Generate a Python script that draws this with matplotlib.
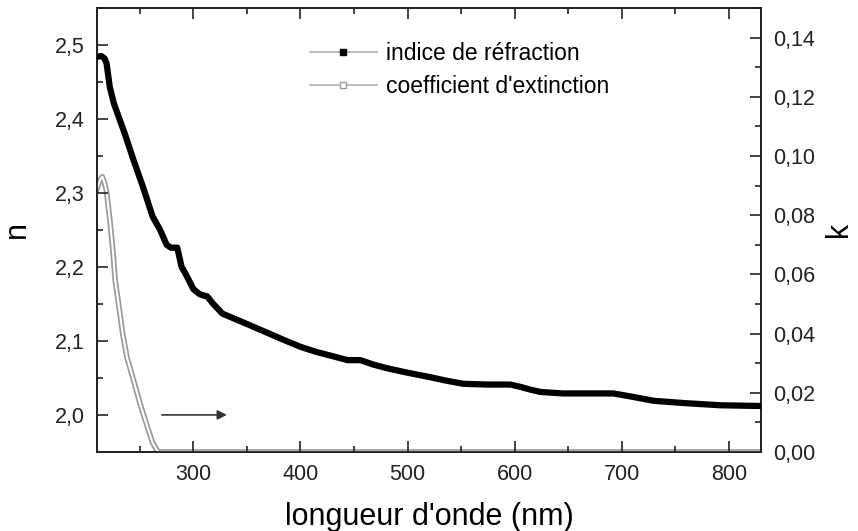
import matplotlib
matplotlib.use("Agg")
import matplotlib.pyplot as plt
from matplotlib.ticker import MultipleLocator, FuncFormatter
from matplotlib.lines import Line2D

plt.rcParams['font.family'] = ['Liberation Sans', 'DejaVu Sans']

# refractive index n vs wavelength (nm)
wl_n = [210, 214, 217, 219, 222, 226, 231, 236, 244, 253, 262, 269, 275, 279, 285,
        289, 293, 300, 306, 313, 318, 327, 340, 353, 369, 385, 400, 415, 431, 444,
        456, 468, 481, 500, 521, 537, 552, 575, 596, 605, 615, 624, 645, 670, 692,
        708, 730, 758, 792, 830]
n_vals = [2.484, 2.485, 2.482, 2.475, 2.443, 2.420, 2.400, 2.380, 2.345, 2.308, 2.268,
          2.250, 2.230, 2.226, 2.226, 2.200, 2.190, 2.170, 2.163, 2.160, 2.151, 2.137,
          2.129, 2.121, 2.111, 2.101, 2.092, 2.085, 2.079, 2.074, 2.074, 2.068, 2.063,
          2.057, 2.051, 2.046, 2.042, 2.041, 2.041, 2.038, 2.034, 2.031, 2.029, 2.029,
          2.029, 2.025, 2.019, 2.016, 2.013, 2.012]

# extinction coefficient k vs wavelength (nm)
wl_k = [210, 213, 215, 217, 219, 222, 225, 227, 230, 234, 238, 244, 250, 257, 262,
        267, 300, 400, 500, 600, 700, 830]
k_vals = [0.089, 0.092, 0.093, 0.091, 0.088, 0.0786, 0.0675, 0.058, 0.0505, 0.040,
          0.032, 0.0244, 0.0166, 0.0085, 0.003, 0.0, 0.0, 0.0, 0.0, 0.0, 0.0, 0.0]

fig = plt.figure(figsize=(8.58, 5.31), dpi=100)
ax = fig.add_axes([0.113, 0.149, 0.774, 0.836])
ax2 = ax.twinx()

# k curve: hollow grey squares look (grey stroke with white core)
ax2.plot(wl_k, k_vals, color='#9a9a9a', lw=4.0, solid_joinstyle='round', zorder=2)
ax2.plot(wl_k, k_vals, color='white', lw=1.5, zorder=3)

# n curve: dense black squares look
ax.plot(wl_n, n_vals, color='black', lw=4.5, solid_joinstyle='round', zorder=3)
ax.set_zorder(ax2.get_zorder() + 1)
ax.patch.set_visible(False)

ax.set_xlim(210, 830)
ax.set_ylim(1.95, 2.55)
ax2.set_ylim(0.0, 0.15)

ax.xaxis.set_major_locator(MultipleLocator(100))
ax.xaxis.set_minor_locator(MultipleLocator(50))
ax.yaxis.set_major_locator(MultipleLocator(0.1))
ax.yaxis.set_minor_locator(MultipleLocator(0.05))
ax2.yaxis.set_major_locator(MultipleLocator(0.02))
ax2.yaxis.set_minor_locator(MultipleLocator(0.01))

ax.yaxis.set_major_formatter(FuncFormatter(lambda v, p: f"{v:.1f}".replace('.', ',')))
ax2.yaxis.set_major_formatter(FuncFormatter(lambda v, p: f"{v:.2f}".replace('.', ',')))

ax.tick_params(which='both', direction='in', top=True, right=False,
               labelsize=15.5, colors='#222222', width=1.2)
ax.tick_params(which='major', length=8, pad=9)
ax.tick_params(which='minor', length=4)
ax2.tick_params(which='both', direction='in', labelsize=15.5, colors='#222222', width=1.2)
ax2.tick_params(which='major', length=8, pad=9)
ax2.tick_params(which='minor', length=4)

for a in (ax, ax2):
    for s in a.spines.values():
        s.set_linewidth(1.3)
        s.set_color('#222222')

ax.set_xlabel("longueur d'onde (nm)", fontsize=22)
ax.set_ylabel("n", fontsize=22)
ax2.set_ylabel("k", fontsize=22)
ax.xaxis.set_label_coords(0.5, -0.114)
ax.yaxis.set_label_coords(-0.098, 0.5)
ax2.yaxis.set_label_coords(1.095, 0.5)

# arrow pointing towards the right axis
ax.annotate('', xy=(334, 2.0), xytext=(268, 2.0),
            arrowprops=dict(arrowstyle='-|>', color='#333333', lw=1.2,
                            mutation_scale=14))

handles = [
    Line2D([], [], color='#b0b0b0', lw=1.2, marker='s', markersize=4,
           markerfacecolor='black', markeredgecolor='black'),
    Line2D([], [], color='#b0b0b0', lw=1.2, marker='s', markersize=4,
           markerfacecolor='white', markeredgecolor='#9a9a9a'),
]
ax.legend(handles, ['indice de réfraction', "coefficient d'extinction"],
          loc='upper left', bbox_to_anchor=(0.29, 0.97), frameon=False,
          fontsize=16.5, handlelength=2.9, handletextpad=0.4, labelspacing=0.45)

fig.savefig('out.png', dpi=100)
